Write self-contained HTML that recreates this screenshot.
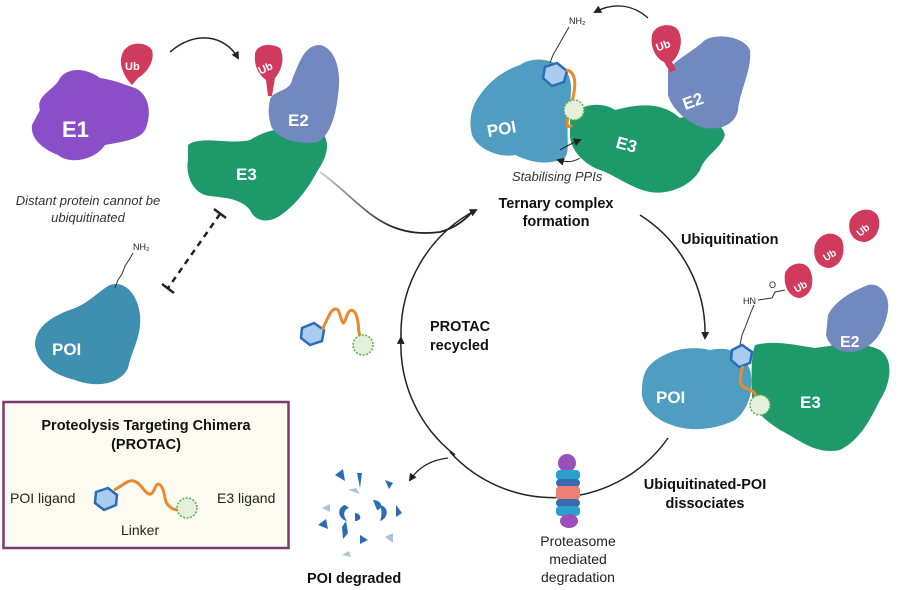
<!DOCTYPE html>
<html><head><meta charset="utf-8"><style>
body{margin:0;background:#fff;}
svg{display:block;font-family:"Liberation Sans",sans-serif;}
.b{font-weight:bold;font-size:14.5px;fill:#111;}
.w{font-weight:bold;fill:#fff;}
</style></head><body>
<svg width="900" height="590" viewBox="0 0 900 590" xmlns="http://www.w3.org/2000/svg">
<defs>
<marker id="ah" markerWidth="8" markerHeight="8" refX="6" refY="4" orient="auto" markerUnits="userSpaceOnUse"><path d="M0,0 L8,4 L0,8 Z" fill="#222"/></marker>
<linearGradient id="fade" x1="0" y1="0" x2="1" y2="0"><stop offset="0" stop-color="#ccc"/><stop offset="0.5" stop-color="#222"/></linearGradient>
</defs>
<!-- E1 -->
<path d="M40,110 C35,95 55,90 60,78 C70,65 90,70 100,78 C115,80 125,85 135,88 C150,95 152,115 145,130 C140,140 120,142 105,145 C95,160 70,165 58,155 C45,150 30,140 32,125 Z" fill="#8a4fc8"/>
<path d="M122,55 C125,42 145,40 152,50 C155,60 148,72 138,78 L132,85 C125,78 118,65 122,55Z" fill="#d03a5c"/>
<text x="125" y="70" class="w" font-size="11">Ub</text>
<text x="62" y="137" class="w" font-size="22">E1</text>
<!-- arrow E1->E2 -->
<path d="M170,52 C195,30 225,35 238,58" fill="none" stroke="#222" stroke-width="1.5" marker-end="url(#ah)"/>
<!-- E3 top-left complex -->
<path d="M188,145 C200,135 230,145 250,140 C265,130 290,125 310,128 C330,130 332,150 318,170 C310,185 300,200 285,212 C270,225 255,222 250,210 C240,198 225,198 210,196 C195,195 185,178 188,160 Z" fill="#1e9a6a"/>
<path d="M270,100 C272,90 290,92 292,80 C300,60 305,45 320,45 C335,48 342,70 338,95 C336,115 330,135 318,142 C300,145 280,140 272,128 C268,118 268,108 270,100Z" fill="#7189be"/>
<path d="M255,55 C255,45 270,42 280,48 C285,58 282,70 275,78 L272,96 L268,96 L266,80 C258,74 254,65 255,55Z" fill="#d03a5c"/>
<text x="258" y="72" class="w" font-size="11" transform="rotate(-25 265 68)">Ub</text>
<text x="288" y="126" class="w" font-size="17">E2</text>
<text x="236" y="180" class="w" font-size="17">E3</text>
<text x="88" y="205" text-anchor="middle" font-style="italic" font-size="13" fill="#333">Distant protein cannot be</text>
<text x="88" y="222" text-anchor="middle" font-style="italic" font-size="13" fill="#333">ubiquitinated</text>
<!-- dashed -->
<line x1="220" y1="214" x2="168" y2="288" stroke="#222" stroke-width="2.5" stroke-dasharray="6,5"/>
<line x1="214" y1="209" x2="226" y2="218" stroke="#222" stroke-width="2.5"/>
<line x1="162" y1="284" x2="174" y2="293" stroke="#222" stroke-width="2.5"/>
<!-- POI left -->
<path d="M110,285 C125,280 138,295 140,315 C142,335 132,350 128,368 C120,385 95,388 75,380 C55,375 38,365 35,345 C35,325 55,315 75,308 C90,302 100,290 110,285Z" fill="#3f8fb0"/>
<polyline points="115,288 118,280 122,274 125,266 129,260 133,253" fill="none" stroke="#333" stroke-width="1"/>
<text x="133" y="250" font-size="9" fill="#222">NH₂</text>
<text x="52" y="355" class="w" font-size="17">POI</text>
<!-- box -->
<rect x="3.5" y="402" width="285" height="146" fill="#fdfaf1" stroke="#7b3a6e" stroke-width="2.5"/>
<text x="146" y="430" text-anchor="middle" class="b" font-size="14">Proteolysis Targeting Chimera</text>
<text x="146" y="449" text-anchor="middle" class="b" font-size="14">(PROTAC)</text>
<text x="10" y="503" font-size="14" fill="#222">POI ligand</text>
<text x="217" y="503" font-size="14" fill="#222">E3 ligand</text>
<text x="121" y="535" font-size="14" fill="#222">Linker</text>
<polygon points="96,492 108,488 117,495 116,505 104,510 95,503" fill="#a9ccef" stroke="#2a6db5" stroke-width="2.5"/>
<path d="M114,490 C125,485 130,475 140,485 C146,492 150,500 155,488 C158,480 163,485 165,498 C166,505 172,510 178,510" fill="none" stroke="#e98a2c" stroke-width="3"/>
<circle cx="187" cy="508" r="10" fill="#e4f0dc" stroke="#5bb04a" stroke-width="1.5" stroke-dasharray="2,1.5"/>
<!-- free PROTAC -->
<polygon points="302,328 314,323 324,330 322,341 310,345 301,338" fill="#a9ccef" stroke="#2a6db5" stroke-width="2.5"/>
<path d="M322,330 C328,318 332,305 338,310 C342,318 342,330 346,318 C350,305 356,310 358,322 C359,330 358,335 362,338" fill="none" stroke="#e98a2c" stroke-width="3"/>
<circle cx="363" cy="345" r="10" fill="#e4f0dc" stroke="#5bb04a" stroke-width="1.5" stroke-dasharray="2,1.5"/>
<!-- cycle -->
<path d="M455,455 A140,140 0 0 1 401,338" fill="none" stroke="#222" stroke-width="1.5" marker-end="url(#ah)"/>
<path d="M401,338 A140,140 0 0 1 476,210" fill="none" stroke="#222" stroke-width="1.5" marker-end="url(#ah)"/>
<path d="M640,215 A140,140 0 0 1 705,338" fill="none" stroke="#222" stroke-width="1.5" marker-end="url(#ah)"/>
<path d="M668,438 A140,140 0 0 1 450,452" fill="none" stroke="#222" stroke-width="1.5"/>
<path d="M448,458 C430,460 418,468 410,480" fill="none" stroke="#222" stroke-width="1.2" marker-end="url(#ah)"/>
<path d="M320,172 C360,200 380,240 440,232 C455,228 465,220 472,212" fill="none" stroke="url(#fade)" stroke-width="1.8"/>
<text x="430" y="331" class="b">PROTAC</text>
<text x="430" y="350" class="b">recycled</text>
<!-- degraded -->
<g fill="#2a6db5">
<path d="M335,475 l8,-6 l2,12 z"/><path d="M357,473 l5,0 l-2,15 z"/><path d="M385,480 l8,3 l-4,6 z"/>
<path d="M345,505 c-8,2 -8,14 2,16 c-4,-5 -4,-11 2,-13 z"/><path d="M373,500 c8,0 12,8 4,10 z"/>
<path d="M380,505 c10,2 8,14 0,16 c2,-6 2,-10 0,-16 z"/><path d="M355,513 c6,0 8,8 0,8 z"/>
<path d="M318,525 l8,-6 l2,10 z"/><path d="M342,527 l4,-6 l2,12 l-5,6 z"/><path d="M360,535 l8,5 l-8,4 z"/>
<path d="M396,505 l6,8 l-6,4 z"/></g>
<g fill="#a9c4dc"><path d="M322,508 l8,-4 l0,8 z"/><path d="M385,537 l8,-4 l0,10 z"/><path d="M342,555 l7,-4 l2,6 z"/><path d="M348,490 l8,-2 l4,6 z"/></g>
<text x="307" y="583" class="b">POI degraded</text>
<!-- top complex -->
<path d="M570,120 C575,105 600,100 615,110 C635,105 660,100 680,118 C700,112 720,118 725,135 C720,150 705,155 700,170 C690,188 665,195 650,192 C630,188 615,175 600,170 C585,165 570,150 570,135 Z" fill="#1e9a6a"/>
<path d="M668,70 C675,60 695,50 705,40 C720,32 745,38 750,50 C752,70 740,90 738,110 C735,125 720,130 705,128 C690,125 672,110 668,95 Z" fill="#7189be"/>
<path d="M652,35 C655,24 672,22 678,30 C684,40 680,55 672,62 L676,70 L670,72 L664,62 C655,58 650,46 652,35Z" fill="#d03a5c"/>
<text x="656" y="49" class="w" font-size="11" transform="rotate(-20 664 46)">Ub</text>
<path d="M480,95 C490,80 505,70 520,65 C535,55 555,60 565,70 C575,80 570,100 568,120 C566,140 572,158 560,160 C545,165 530,162 515,155 C500,158 478,150 472,135 C468,120 472,105 480,95Z" fill="#4f9ec2"/>
<polyline points="550,63 553,55 557,48 561,41 565,34 569,27" fill="none" stroke="#333" stroke-width="1"/>
<text x="569" y="24" font-size="9" fill="#222">NH₂</text>
<polygon points="545,67 557,63 567,71 564,82 552,86 543,78" fill="#a9ccef" stroke="#2a6db5" stroke-width="2.5"/>
<path d="M566,70 C580,72 574,95 570,110 C566,122 566,130 572,125" fill="none" stroke="#e98a2c" stroke-width="3"/>
<circle cx="574" cy="110" r="10" fill="#e4f0dc" stroke="#5bb04a" stroke-width="1.5" stroke-dasharray="2,1.5"/>
<text x="487" y="135" class="w" font-size="17" transform="rotate(-10 500 130)">POI</text>
<text x="616" y="150" class="w" font-size="17" transform="rotate(15 625 145)">E3</text>
<text x="683" y="108" class="w" font-size="17" transform="rotate(-20 690 103)">E2</text>
<path d="M560,150 C568,145 575,142 580,140" fill="none" stroke="#222" stroke-width="1" marker-end="url(#ah)"/>
<path d="M580,158 C572,163 565,162 558,160" fill="none" stroke="#222" stroke-width="1" marker-end="url(#ah)"/>
<text x="512" y="181" font-style="italic" font-size="13" fill="#333">Stabilising PPIs</text>
<text x="556" y="208" text-anchor="middle" class="b">Ternary complex</text>
<text x="556" y="226" text-anchor="middle" class="b">formation</text>
<path d="M648,18 C630,2 610,4 595,12" fill="none" stroke="#222" stroke-width="1.3" marker-end="url(#ah)"/>
<text x="681" y="244" class="b">Ubiquitination</text>
<!-- bottom-right complex -->
<path d="M755,345 C775,340 795,345 815,348 C835,345 860,340 880,350 C895,360 890,385 880,400 C870,420 860,440 840,450 C815,455 800,440 780,430 C765,420 752,410 752,395 C752,380 750,360 755,345Z" fill="#1e9a6a"/>
<path d="M828,315 C835,300 855,290 868,285 C880,282 890,295 888,310 C885,330 875,345 860,350 C845,355 830,350 826,335 Z" fill="#7189be"/>
<path d="M650,365 C665,350 690,345 710,350 C730,345 745,355 750,370 C755,390 748,410 735,420 C715,430 690,432 672,425 C655,420 640,405 642,390 C642,378 645,370 650,365Z" fill="#4f9ec2"/>
<path d="M785,273 C790,262 805,260 810,270 C815,282 812,295 800,298 C790,298 783,287 785,273Z" fill="#d03a5c"/>
<path d="M815,245 C820,232 835,230 842,240 C846,252 842,265 830,268 C818,268 812,258 815,245Z" fill="#d03a5c"/>
<path d="M850,220 C856,208 872,206 878,216 C882,228 876,240 865,242 C853,242 847,232 850,220Z" fill="#d03a5c"/>
<text x="793" y="290" class="w" font-size="10" transform="rotate(-30 800 285)">Ub</text>
<text x="822" y="258" class="w" font-size="10" transform="rotate(-30 830 253)">Ub</text>
<text x="855" y="233" class="w" font-size="10" transform="rotate(-40 863 228)">Ub</text>
<polyline points="740,345 742,335 745,328 748,320 751,312 754,305" fill="none" stroke="#333" stroke-width="1"/>
<text x="743" y="304" font-size="9" fill="#222">HN</text>
<text x="769" y="288" font-size="9" fill="#222">O</text>
<polyline points="758,300 772,298 775,292 785,290" fill="none" stroke="#333" stroke-width="1"/>
<polygon points="732,350 742,345 752,352 750,363 739,367 731,360" fill="#a9ccef" stroke="#2a6db5" stroke-width="2.5"/>
<path d="M743,366 C740,375 738,385 745,388 C752,390 755,392 757,398" fill="none" stroke="#e98a2c" stroke-width="3"/>
<circle cx="760" cy="405" r="10" fill="#e4f0dc" stroke="#5bb04a" stroke-width="1.5" stroke-dasharray="2,1.5"/>
<text x="656" y="403" class="w" font-size="17">POI</text>
<text x="800" y="408" class="w" font-size="17">E3</text>
<text x="840" y="347" class="w" font-size="16">E2</text>
<text x="705" y="489" text-anchor="middle" class="b">Ubiquitinated-POI</text>
<text x="705" y="508" text-anchor="middle" class="b">dissociates</text>
<!-- proteasome -->
<g>
<ellipse cx="567" cy="463" rx="9" ry="9" fill="#9b4fb8"/>
<rect x="556" y="470" width="24" height="10" rx="4" fill="#2a9fd0"/>
<rect x="556" y="479" width="24" height="8" rx="4" fill="#3a6ab0"/>
<rect x="556" y="486" width="24" height="14" rx="4" fill="#ef8075"/>
<rect x="556" y="499" width="24" height="8" rx="4" fill="#3a6ab0"/>
<rect x="556" y="506" width="24" height="10" rx="4" fill="#2a9fd0"/>
<ellipse cx="569" cy="521" rx="9" ry="7" fill="#9b4fb8"/>
</g>
<text x="578" y="546" text-anchor="middle" font-size="14" fill="#222">Proteasome</text>
<text x="578" y="564" text-anchor="middle" font-size="14" fill="#222">mediated</text>
<text x="578" y="582" text-anchor="middle" font-size="14" fill="#222">degradation</text>
</svg>
</body></html>
